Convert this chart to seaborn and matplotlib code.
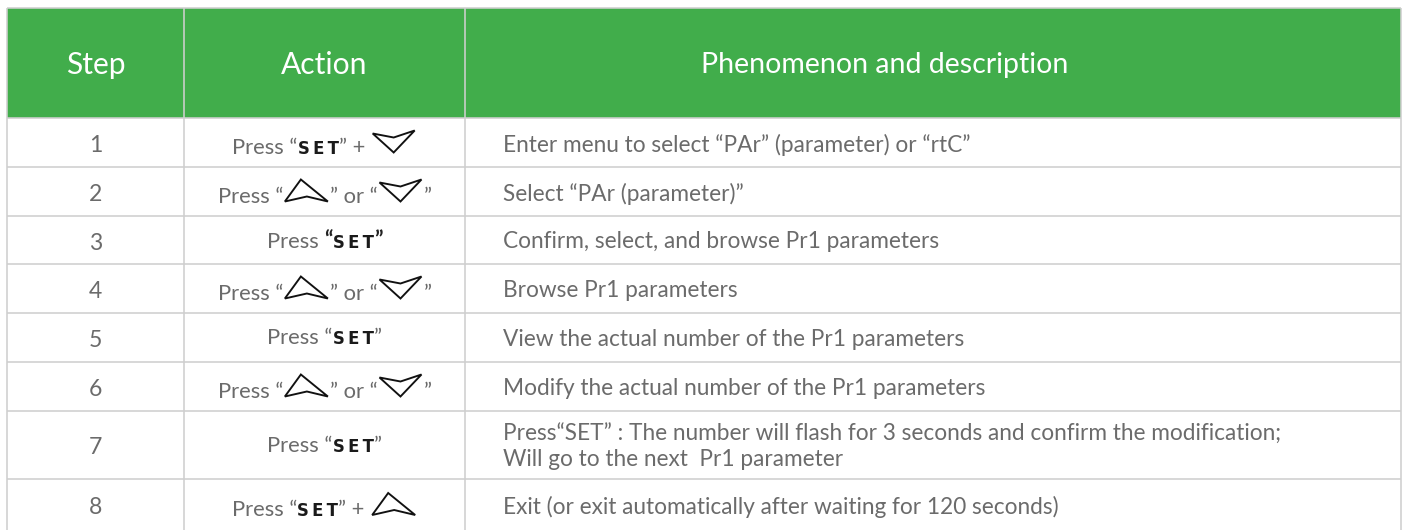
import matplotlib
matplotlib.use("Agg")
import matplotlib.pyplot as plt
import seaborn as sns
from matplotlib.offsetbox import TextArea, DrawingArea, HPacker, AnnotationBbox
from matplotlib.patches import Polygon, Rectangle

# ---------------- data ----------------
HEADERS = ["Step", "Action", "Phenomenon and description"]
STEPS = ["1", "2", "3", "4", "5", "6", "7", "8"]
# tokens: "t:" plain text, "b:" bold text, "k:" key label, "i:" icon
ACTIONS = [
    ["t:Press “", "k:SET", "t:” + ", "i:down"],
    ["t:Press “", "i:up", "t:” or “", "i:down", "t:”"],
    ["t:Press ", "b:“", "k:SET", "b:”"],
    ["t:Press “", "i:up", "t:” or “", "i:down", "t:”"],
    ["t:Press “", "k:SET", "t:”"],
    ["t:Press “", "i:up", "t:” or “", "i:down", "t:”"],
    ["t:Press “", "k:SET", "t:”"],
    ["t:Press “", "k:SET", "t:” + ", "i:up"],
]
DESCRIPTIONS = [
    "Enter menu to select “PAr” (parameter) or “rtC”",
    "Select “PAr (parameter)”",
    "Confirm, select, and browse Pr1 parameters",
    "Browse Pr1 parameters",
    "View the actual number of the Pr1 parameters",
    "Modify the actual number of the Pr1 parameters",
    "Press“SET” : The number will flash for 3 seconds and confirm the modification;\nWill go to the next  Pr1 parameter",
    "Exit (or exit automatically after waiting for 120 seconds)",
]

# ---------------- layout (pixels) ----------------
W, H = 1404, 530
COL_EDGES = [7, 184, 465, 1401]
ROW_EDGES = [8, 118, 167, 216, 264, 313, 362, 411, 479, 531]
GREEN = "#41AD4B"
GRID = "#cfcfcf"
TXT = "#6b6b6b"
PX = 72 / 100.0  # points per pixel

sns.set_theme(style="white")
plt.rcParams["font.family"] = ["Lato", "DejaVu Sans"]

fig = plt.figure(figsize=(W / 100, H / 100), dpi=100)
ax = fig.add_axes([0, 0, 1, 1])
ax.set_xlim(0, W)
ax.set_ylim(H, 0)
ax.axis("off")

# header band
ax.add_patch(Rectangle((COL_EDGES[0], ROW_EDGES[0]), COL_EDGES[-1] - COL_EDGES[0],
                       ROW_EDGES[1] - ROW_EDGES[0], facecolor=GREEN, edgecolor="none", zorder=1))
# grid
for y in ROW_EDGES:
    ax.plot([COL_EDGES[0], COL_EDGES[-1]], [y, y], color=GRID, lw=1.6 * PX, zorder=2,
            solid_capstyle="butt")
for x in COL_EDGES:
    ax.plot([x, x], [ROW_EDGES[0], ROW_EDGES[-1]], color=GRID, lw=1.6 * PX, zorder=2,
            solid_capstyle="butt")

# header texts
hy = (ROW_EDGES[0] + ROW_EDGES[1]) / 2 + 2
header_x = [(COL_EDGES[0] + COL_EDGES[1]) / 2, (COL_EDGES[1] + COL_EDGES[2]) / 2, 885]
header_fs = [30, 30, 28.5]
for hx, label, fs in zip(header_x, HEADERS, header_fs):
    ax.text(hx, hy, label, color="white", fontsize=fs * PX, ha="center", va="center", zorder=3)

ACT_FS = 22 * PX
DESC_FS = 22.6 * PX
UP = [(0, 0), (16, 22), (43, 0), (22, 5)]
DOWN = [(0, 19), (21, 0), (42, 22), (21, 15)]


def icon(shape):
    pts = UP if shape == "up" else DOWN
    w = max(p[0] for p in pts) + 4
    h = max(p[1] for p in pts) + 3
    da = DrawingArea(w * PX, h * PX, 0, 0)
    poly = Polygon([((x + 2) * PX, (y + 1.5) * PX) for x, y in pts], closed=True,
                   facecolor="none", edgecolor="#111111", lw=1.9 * PX, joinstyle="miter")
    da.add_artist(poly)
    return da


def token_box(tok):
    kind, val = tok.split(":", 1)
    if kind == "t":
        return TextArea(val, textprops=dict(color=TXT, fontsize=ACT_FS))
    if kind == "b":
        return TextArea(val, textprops=dict(color="#222222", fontsize=ACT_FS, fontweight="bold"))
    if kind == "k":
        return TextArea("\u2009".join(val),
                        textprops=dict(color="#1a1a1a", fontsize=16.5 * PX, fontweight="bold",
                                       fontfamily="DejaVu Sans"))
    return icon(val)


for i, (step, action, desc) in enumerate(zip(STEPS, ACTIONS, DESCRIPTIONS)):
    y0, y1 = ROW_EDGES[i + 1], ROW_EDGES[i + 2]
    cy = (y0 + y1) / 2
    ax.text((COL_EDGES[0] + COL_EDGES[1]) / 2, cy + 3, step, color=TXT, fontsize=23 * PX,
            ha="center", va="center", zorder=3)
    pack = HPacker(children=[token_box(t) for t in action], align="baseline", pad=0, sep=0)
    ab = AnnotationBbox(pack, ((COL_EDGES[1] + COL_EDGES[2]) / 2, cy + 1), xycoords="data",
                        frameon=False, box_alignment=(0.5, 0.5), pad=0, zorder=3)
    ax.add_artist(ab)
    ax.text(503, cy + 2, desc, color=TXT, fontsize=DESC_FS, ha="left", va="center",
            linespacing=1.2, zorder=3)

fig.savefig("out.png", dpi=100, facecolor="white")
